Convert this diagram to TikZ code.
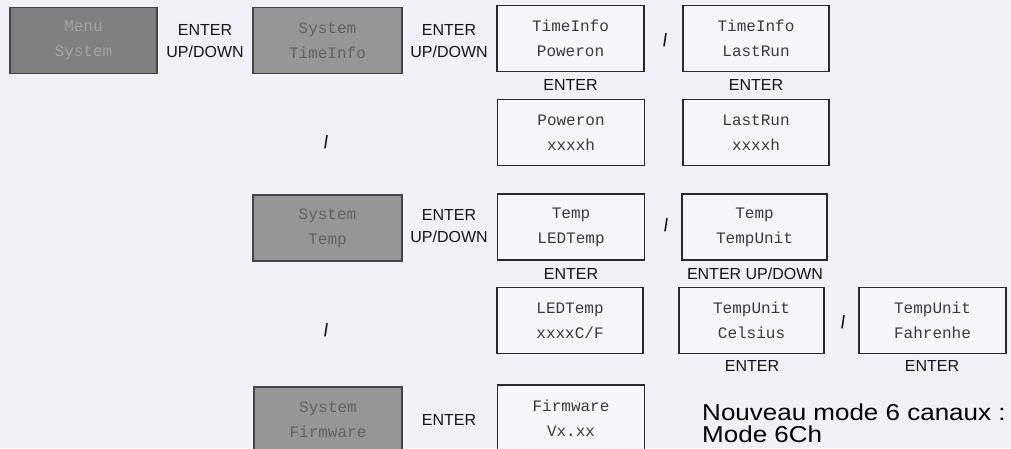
\documentclass[tikz,border=0pt]{standalone}
\usepackage{fontspec}
\setmainfont{Liberation Sans}
\newfontfamily\lcdfont{Liberation Mono}
\definecolor{bg}{HTML}{F1F1F7}
\definecolor{boxfill}{HTML}{F7F7FB}
\definecolor{boxline}{HTML}{2A2A2A}
\definecolor{lcdtext}{HTML}{3A3A3A}
\definecolor{greyfill}{HTML}{969696}
\definecolor{menufill}{HTML}{808080}
\definecolor{greyline}{HTML}{444444}
\definecolor{greytext}{HTML}{626262}
\definecolor{menutext}{HTML}{A4A4A4}
\definecolor{lbltext}{HTML}{151515}
\begin{document}
\begin{tikzpicture}[x=1pt,y=-1pt,
  box/.style={draw=boxline, line width=1.6pt, minimum width=147pt, minimum height=66pt, inner sep=0pt, align=center, font=\lcdfont\fontsize{16}{25}\selectfont, text=lcdtext},
  wbox/.style={box, fill=boxfill},
  gbox/.style={box, fill=greyfill, draw=greyline, text=greytext},
  mbox/.style={gbox, fill=menufill, text=menutext},
  lbl/.style={font=\fontsize{16}{22}\selectfont, text=lbltext, inner sep=0pt, align=center},
  sl/.style={font=\bfseries\fontsize{18}{18}\selectfont, xscale=0.8, text=lbltext, inner sep=0pt},
  note/.style={font=\fontsize{23}{20}\selectfont, text=black, inner sep=0pt, anchor=base west, xscale=1.13}
]
\useasboundingbox (0,0) rectangle (1011,448);
\fill[bg] (0,0) rectangle (1011,448);
\clip (0,0) rectangle (1011,448);
% boxes
\node[mbox] (menu) at (83.5,40.5) {Menu\\System};
\node[gbox, minimum width=149pt] (systime) at (327.5,40.5) {System\\TimeInfo};
\node[wbox] (tipow) at (570.5,38.5) {TimeInfo\\Poweron};
\node[wbox, minimum width=146pt] (tilast) at (756,38.5) {TimeInfo\\LastRun};
\node[wbox] (powval) at (571,132.5) {Poweron\\xxxxh};
\node[wbox, minimum width=146pt] (lastval) at (756,132.5) {LastRun\\xxxxh};
\node[gbox, minimum width=149pt] (systemp) at (327.5,228) {System\\Temp};
\node[wbox] (templed) at (571,227) {Temp\\LEDTemp};
\node[wbox, minimum width=145pt] (tempunit) at (754.5,227) {Temp\\TempUnit};
\node[wbox, minimum width=146pt] (ledval) at (570,320.5) {LEDTemp\\xxxxC/F};
\node[wbox, minimum width=145pt] (celsius) at (751.5,320.5) {TempUnit\\Celsius};
\node[wbox] (fahr) at (932.5,320.5) {TempUnit\\Fahrenhe};
\node[gbox, minimum width=148pt] (sysfirm) at (328,420) {System\\Firmware};
\node[wbox] (firmval) at (571,418) {Firmware\\Vx.xx};
% labels between boxes
\node[lbl] (l1) at (205,41) {ENTER\\UP/DOWN};
\node[lbl] (l2) at (449,41) {ENTER\\UP/DOWN};
\node[lbl] (l3) at (449,226) {ENTER\\UP/DOWN};
\node[lbl] (l4) at (449,420) {ENTER};
% labels under boxes
\node[lbl] (u1) at (570.5,85) {ENTER};
\node[lbl] (u2) at (756,85) {ENTER};
\node[lbl] (u3) at (571,274) {ENTER};
\node[lbl] (u4) at (755,274) {ENTER UP/DOWN};
\node[lbl] (u5) at (752,366) {ENTER};
\node[lbl] (u6) at (932,366) {ENTER};
% slashes
\node[sl] (s1) at (665,40) {/};
\node[sl] (s2) at (326,142) {/};
\node[sl] (s3) at (666,225) {/};
\node[sl] (s4) at (326,330) {/};
\node[sl] (s5) at (843,322) {/};
% note
\node[note] (n1) at (702,420) {Nouveau mode 6 canaux :};
\node[note] (n2) at (702,442) {Mode 6Ch};
\end{tikzpicture}
\end{document}
